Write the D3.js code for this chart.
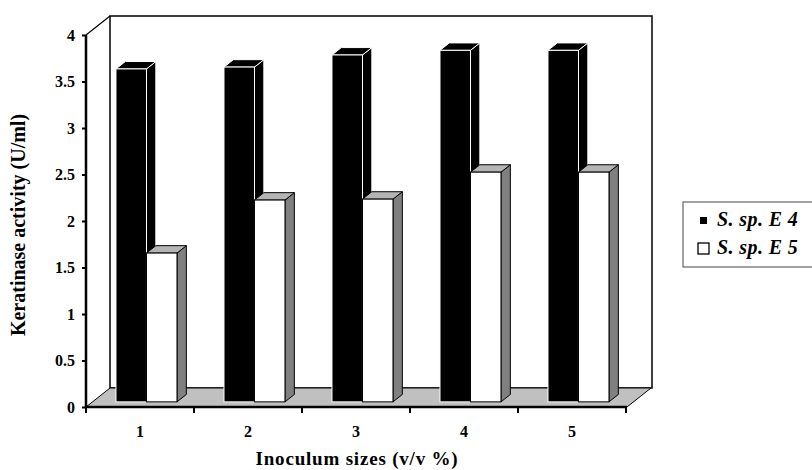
<!DOCTYPE html>
<html>
<head>
<meta charset="utf-8">
<script src="https://cdn.jsdelivr.net/npm/d3@7"></script>
<style>
  body { margin: 0; background: #fff; }
</style>
</head>
<body>
<div id="chart"></div>
<script>
// data
const categories = ["1", "2", "3", "4", "5"];
const seriesNames = ["S. sp. E4", "S. sp. E5"];
const e4Values = [3.58, 3.6, 3.73, 3.78, 3.78];
const e5Values = [1.6, 2.17, 2.18, 2.47, 2.47];
const yTicks = [0, 0.5, 1, 1.5, 2, 2.5, 3, 3.5, 4];

const serif = "'Liberation Serif', 'Times New Roman', Times, serif";
const width = 812, height = 470;
const svg = d3.select("#chart").append("svg")
    .attr("width", width)
    .attr("height", height)
    .style("font-family", serif);

// plot frame
const x0 = 86, x1 = 626, yTop = 35, yBot = 407;
const depth = { dx: 24, dy: -19 };   // back wall offset
const barF = 0.27, barB = 0.66;      // bar front/back as fraction of depth

const x = d3.scaleBand().domain(categories).range([x0, x1]);
const groupW = 61;
const xs = d3.scaleBand().domain(seriesNames).range([0, groupW]);
const y = d3.scaleLinear().domain([0, 4]).range([yBot, yTop]);

// back wall
svg.append("rect")
    .attr("x", x0 + depth.dx)
    .attr("y", yTop + depth.dy)
    .attr("width", x1 - x0 + 2)
    .attr("height", yBot - yTop)
    .attr("fill", "#fff")
    .attr("stroke", "#000")
    .attr("stroke-width", 1.5);

// floor
svg.append("polygon")
    .attr("points", [
        [x0, yBot], [x1 + 1, yBot],
        [x1 + 1 + depth.dx, yBot + depth.dy], [x0 + depth.dx, yBot + depth.dy]
    ].map(p => p.join(",")).join(" "))
    .attr("fill", "#c0c0c0")
    .attr("stroke", "#000")
    .attr("stroke-width", 1);

// bars
const bars = [];
categories.forEach((c, i) => {
    bars.push({ cat: c, s: seriesNames[0], v: e4Values[i] });
    bars.push({ cat: c, s: seriesNames[1], v: e5Values[i] });
});

const styles = {
    "S. sp. E4": { front: "#000", top: "#000", side: "#000", stroke: "#fff" },
    "S. sp. E5": { front: "#fff", top: "#b4b4b4", side: "#808080", stroke: "#000" }
};

const pts = arr => arr.map(p => p.join(",")).join(" ");

bars.forEach(d => {
    const st = styles[d.s];
    const fx = depth.dx * barF, fy = depth.dy * barF;
    const bx = depth.dx * barB, by = depth.dy * barB;
    const left = x(d.cat) + (x.bandwidth() - groupW) / 2 + xs(d.s) + fx;
    const right = left + xs.bandwidth();
    const top = y(d.v) + fy;
    const base = y(0) + fy;
    const ddx = bx - fx, ddy = by - fy;
    const g = svg.append("g").attr("stroke", st.stroke).attr("stroke-width", 1);
    // side
    g.append("polygon")
        .attr("points", pts([[right, top], [right + ddx, top + ddy], [right + ddx, base + ddy], [right, base]]))
        .attr("fill", st.side);
    // top
    g.append("polygon")
        .attr("points", pts([[left, top], [left + ddx, top + ddy], [right + ddx, top + ddy], [right, top]]))
        .attr("fill", st.top);
    // front
    g.append("rect")
        .attr("x", left).attr("y", top)
        .attr("width", right - left).attr("height", base - top)
        .attr("fill", st.front);
});

// y axis
const yAxis = svg.append("g")
    .attr("transform", `translate(${x0},0)`)
    .call(d3.axisLeft(y).tickValues(yTicks).tickSize(4).tickPadding(7).tickFormat(d3.format("")));
yAxis.attr("font-family", null);
yAxis.select(".domain").remove();
yAxis.selectAll("line").attr("stroke", "#000").attr("stroke-width", 2);
yAxis.selectAll("text")
    .style("font-family", serif)
    .style("font-size", "16px")
    .style("font-weight", "bold")
    .attr("fill", "#000");

svg.append("line")
    .attr("x1", x0).attr("x2", x0)
    .attr("y1", yTop).attr("y2", yBot + 1)
    .attr("stroke", "#000").attr("stroke-width", 2.5);
svg.append("line")
    .attr("x1", x0).attr("y1", yTop)
    .attr("x2", x0 + depth.dx).attr("y2", yTop + depth.dy)
    .attr("stroke", "#000").attr("stroke-width", 1.2);

// x axis
const xAxis = svg.append("g")
    .attr("transform", `translate(0,${yBot})`)
    .call(d3.axisBottom(x).tickSize(0).tickPadding(19));
xAxis.attr("font-family", null);
xAxis.select(".domain").remove();
xAxis.selectAll("text")
    .style("font-family", serif)
    .style("font-size", "16px")
    .style("font-weight", "bold")
    .attr("fill", "#000");

svg.append("line")
    .attr("x1", x0).attr("x2", x1 + 1)
    .attr("y1", yBot).attr("y2", yBot)
    .attr("stroke", "#000").attr("stroke-width", 2.5);

const bounds = categories.map(c => x(c)).concat([x1]);
svg.selectAll(".xtick")
    .data(bounds)
    .join("line")
    .attr("class", "xtick")
    .attr("x1", d => d).attr("x2", d => d)
    .attr("y1", yBot).attr("y2", yBot + 6)
    .attr("stroke", "#000").attr("stroke-width", 2);

// axis titles
svg.append("text")
    .attr("x", (x0 + x1) / 2 + 1)
    .attr("y", 465)
    .attr("text-anchor", "middle")
    .style("font-family", serif)
    .style("font-size", "19px")
    .style("font-weight", "bold")
    .style("letter-spacing", "0.8px")
    .text("Inoculum sizes (v/v %)");

svg.append("text")
    .attr("transform", `translate(25,${(yTop + yBot) / 2 + 4}) rotate(-90)`)
    .attr("text-anchor", "middle")
    .style("font-family", serif)
    .style("font-size", "20px")
    .style("font-weight", "bold")
    .text("Keratinase activity (U/ml)");

// legend
const legend = svg.append("g").attr("transform", "translate(683,202)");
legend.append("rect")
    .attr("x", 0).attr("y", 0)
    .attr("width", 140).attr("height", 65)
    .attr("fill", "#fff")
    .attr("stroke", "#444")
    .attr("stroke-width", 1);

legend.append("rect")
    .attr("x", 17).attr("y", 15)
    .attr("width", 7).attr("height", 7)
    .attr("fill", "#000");
legend.append("rect")
    .attr("x", 15).attr("y", 41)
    .attr("width", 11).attr("height", 11)
    .attr("fill", "#fff")
    .attr("stroke", "#000")
    .attr("stroke-width", 1.3);

legend.selectAll(".legtext")
    .data(seriesNames)
    .join("text")
    .attr("class", "legtext")
    .attr("x", 34)
    .attr("y", (d, i) => 24 + i * 28)
    .style("font-family", serif)
    .style("font-size", "20px")
    .style("font-weight", "bold")
    .style("font-style", "italic")
    .style("letter-spacing", "0.4px")
    .text(d => d.replace(/E(\d)/, "E $1"));
</script>
</body>
</html>
